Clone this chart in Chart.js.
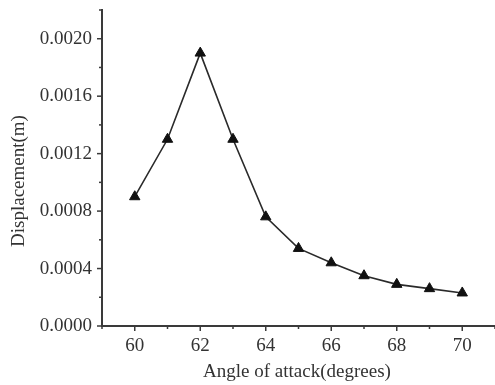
<!DOCTYPE html>
<html>
<head>
<meta charset="utf-8">
<script src="https://cdn.jsdelivr.net/npm/chart.js@4.4.0/dist/chart.umd.min.js"></script>
<style>
  html, body { margin: 0; padding: 0; background: #fff; }
  #wrap { width: 495px; height: 385px; }
</style>
</head>
<body>
<div id="wrap"><canvas id="chart"></canvas></div>
<script>
// angle of attack (degrees) and displacement (m)
const angles = [60, 61, 62, 63, 64, 65, 66, 67, 68, 69, 70];
const displacement = [0.0009, 0.0013, 0.0019, 0.0013, 0.00076, 0.00054, 0.00044, 0.00035, 0.00029, 0.00026, 0.00023];

const xTickLabels = [60, 62, 64, 66, 68, 70];
const yTickLabels = ['0.0000', '0.0004', '0.0008', '0.0012', '0.0016', '0.0020'];

const axisColor = '#3a3a3a';
const textColor = '#333';
const fontFamily = '"Liberation Serif", "Times New Roman", serif';

//draws the little tick marks (major + minor) and axis titles
const axisExtras = {
    id: 'axisExtras',
    afterDraw(chart) {
        const ctx = chart.ctx;
        const x = chart.scales.x;
        const y = chart.scales.y;
        ctx.save();
        ctx.strokeStyle = axisColor;
        ctx.lineWidth = 1.5;

        //x ticks, every 1 deg, long on even ones
        for (let v = 59; v <= 71; v++) {
            const px = x.getPixelForValue(v);
            const len = (v % 2 === 0) ? 5 : 3;
            ctx.beginPath();
            ctx.moveTo(px, y.bottom);
            ctx.lineTo(px, y.bottom + len);
            ctx.stroke();
        }
        //y ticks, every 0.0002
        for (let i = 0; i <= 11; i++) {
            const py = y.getPixelForValue(i * 0.0002);
            const len = (i % 2 === 0) ? 5 : 3;
            ctx.beginPath();
            ctx.moveTo(x.left, py);
            ctx.lineTo(x.left - len, py);
            ctx.stroke();
        }

        //titles
        ctx.fillStyle = textColor;
        ctx.font = '19px ' + fontFamily;
        ctx.textAlign = 'center';
        ctx.textBaseline = 'middle';
        ctx.fillText('Angle of attack(degrees)', 297, 372);

        ctx.translate(19, 181);
        ctx.rotate(-Math.PI / 2);
        ctx.fillText('Displacement(m)', 0, 0);
        ctx.restore();
    }
};

Chart.defaults.font.family = fontFamily;
Chart.defaults.color = textColor;

const ctx = document.getElementById('chart').getContext('2d');

new Chart(ctx, {
    type: 'line',
    data: {
        datasets: [{
            label: 'Displacement',
            data: angles.map((a, i) => ({ x: a, y: displacement[i] })),
            borderColor: '#2a2a2a',
            borderWidth: 1.6,
            pointStyle: 'triangle',
            pointRadius: 6,
            pointBackgroundColor: '#111',
            pointBorderColor: '#111',
            pointBorderWidth: 1,
            tension: 0
        }]
    },
    options: {
        responsive: true,
        maintainAspectRatio: false,
        animation: false,
        layout: {
            autoPadding: false,
            padding: { top: 10, right: 0, left: 0, bottom: 0 }
        },
        plugins: {
            legend: { display: false },
            tooltip: { enabled: false }
        },
        scales: {
            x: {
                type: 'linear',
                min: 59,
                max: 71,
                afterFit: (scale) => {
                    scale.height = 59;
                    scale.paddingLeft = 0;
                    scale.paddingRight = 0;
                },
                afterBuildTicks: (scale) => {
                    scale.ticks = xTickLabels.map(v => ({ value: v }));
                },
                ticks: {
                    padding: 9,
                    font: { size: 19 },
                    color: textColor,
                    maxRotation: 0,
                    callback: (v) => v
                },
                grid: { display: false, drawTicks: false },
                border: { display: true, color: axisColor, width: 2 }
            },
            y: {
                min: 0,
                max: 0.0022,
                afterFit: (scale) => {
                    scale.width = 102;
                    scale.paddingTop = 0;
                    scale.paddingBottom = 0;
                },
                afterBuildTicks: (scale) => {
                    scale.ticks = yTickLabels.map(v => ({ value: parseFloat(v) }));
                },
                ticks: {
                    padding: 10,
                    font: { size: 19 },
                    color: textColor,
                    callback: (v) => v.toFixed(4)
                },
                grid: { display: false, drawTicks: false },
                border: { display: true, color: axisColor, width: 2 }
            }
        }
    },
    plugins: [axisExtras]
});
</script>
</body>
</html>
